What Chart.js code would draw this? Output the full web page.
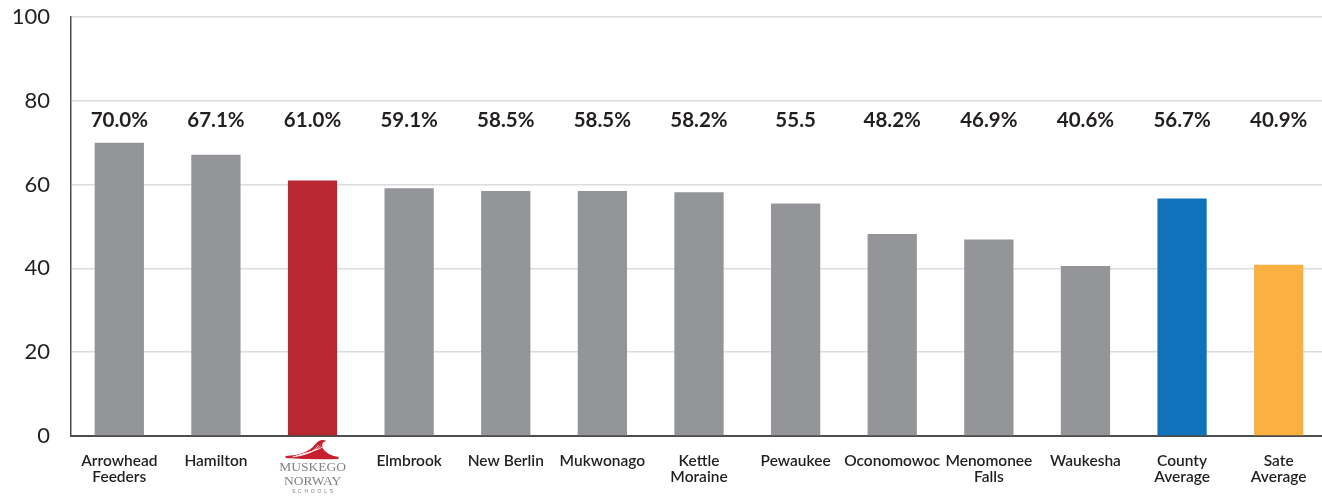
<!DOCTYPE html>
<html>
<head>
<meta charset="utf-8">
<script src="https://cdn.jsdelivr.net/npm/chart.js@4.4.0/dist/chart.umd.min.js"></script>
<style>
  html, body { margin: 0; padding: 0; background: #fff; overflow: hidden; }
  #wrap { width: 1327px; height: 498px; }
</style>
</head>
<body>
<div id="wrap"><canvas id="bar-chart"></canvas></div>
<script>
let categories = [["Arrowhead", "Feeders"], "Hamilton", "", "Elmbrook", "New Berlin", "Mukwonago",
  ["Kettle", "Moraine"], "Pewaukee", "Oconomowoc", ["Menomonee", "Falls"], "Waukesha",
  ["County", "Average"], ["Sate", "Average"]];
let values = [70.0, 67.1, 61.0, 59.1, 58.5, 58.5, 58.2, 55.5, 48.2, 46.9, 40.6, 56.7, 40.9];
let valueLabels = ["70.0%", "67.1%", "61.0%", "59.1%", "58.5%", "58.5%", "58.2%", "55.5", "48.2%", "46.9%", "40.6%", "56.7%", "40.9%"];
let barColors = ["#939598", "#939598", "#B72830", "#939598", "#939598", "#939598", "#939598",
  "#939598", "#939598", "#939598", "#939598", "#1072BA", "#FBB040"];
let yTicks = [0, 20, 40, 60, 80, 100];
let logoIndex = 2;

// labels above bars, all on one line
const topLabels = {
  id: "topLabels",
  afterDatasetsDraw(chart) {
    let ctx = chart.ctx;
    let meta = chart.getDatasetMeta(0);
    let y = chart.scales.y.getPixelForValue(75.4);
    ctx.save();
    ctx.font = "bold 20.5px Lato";
    ctx.fillStyle = "#231f20";
    ctx.textAlign = "center";
    ctx.textBaseline = "middle";
    meta.data.forEach((bar, i) => {
      ctx.fillText(valueLabels[i], bar.x, y);
    });
    ctx.restore();
  }
};

// school logo in place of the third category label
const logoLabel = {
  id: "logoLabel",
  afterDraw(chart) {
    let ctx = chart.ctx;
    let x = chart.scales.x.getPixelForValue(logoIndex);
    let top = chart.scales.x.top;
    ctx.save();
    // red wave
    ctx.fillStyle = "#C8202F";
    ctx.beginPath();
    ctx.moveTo(x - 27, top + 20);
    ctx.quadraticCurveTo(x - 5, top + 19, x + 3, top + 8);
    ctx.quadraticCurveTo(x + 8, top + 2, x + 14, top + 5);
    ctx.quadraticCurveTo(x + 8, top + 6, x + 10, top + 12);
    ctx.quadraticCurveTo(x + 14, top + 19, x + 26, top + 21);
    ctx.lineTo(x + 26, top + 23);
    ctx.quadraticCurveTo(x, top + 24, x - 27, top + 22);
    ctx.closePath();
    ctx.fill();
    ctx.strokeStyle = "#fff";
    ctx.lineWidth = 0.8;
    for (let k = 0; k < 3; k++) {
      ctx.beginPath();
      ctx.moveTo(x - 20 + k * 3, top + 21 - k);
      ctx.quadraticCurveTo(x + 2 + k * 2, top + 18 - k * 2, x + 6 + k * 2, top + 9 + k);
      ctx.stroke();
    }
    ctx.fillStyle = "#808285";
    ctx.textAlign = "center";
    ctx.textBaseline = "middle";
    ctx.font = "13.5px 'Liberation Serif'";
    ctx.fillText("MUSKEGO", x, top + 31);
    ctx.fillText("NORWAY", x, top + 45);
    ctx.font = "5px 'Liberation Sans'";
    ctx.fillText("S  C  H  O  O  L  S", x, top + 56);
    ctx.restore();
  }
};

new Chart("bar-chart", {
  type: "bar",
  data: {
    labels: categories,
    datasets: [{
      data: values,
      backgroundColor: barColors,
      barPercentage: 0.51,
      categoryPercentage: 1
    }]
  },
  plugins: [topLabels, logoLabel],
  options: {
    responsive: true,
    maintainAspectRatio: false,
    animation: false,
    layout: { autoPadding: false, padding: { top: 17, right: 0, left: 0, bottom: 0 } },
    plugins: {
      legend: { display: false },
      tooltip: { enabled: false }
    },
    scales: {
      x: {
        grid: { display: false, drawTicks: false },
        border: { color: "#4d4d4f", width: 2 },
        afterFit: (axis) => {
          axis.height = 62;
          axis.paddingLeft = 0;
          axis.paddingRight = 0;
        },
        ticks: {
          color: "#231f20",
          font: { family: "Lato", size: 15.5, weight: "600", lineHeight: 1.03 },
          padding: 17,
          maxRotation: 0,
          autoSkip: false
        }
      },
      y: {
        min: 0,
        max: 100,
        afterBuildTicks: (axis) => { axis.ticks = yTicks.map(v => ({ value: v })); },
        afterFit: (axis) => {
          axis.width = 71;
          axis.paddingTop = 0;
          axis.paddingBottom = 0;
        },
        grid: { color: "#dcdcdc", lineWidth: 1.5, drawTicks: false },
        border: { color: "#4d4d4f", width: 1.5 },
        ticks: {
          color: "#231f20",
          font: { family: "Lato", size: 22 },
          padding: 21
        }
      }
    }
  }
});
</script>
</body>
</html>
